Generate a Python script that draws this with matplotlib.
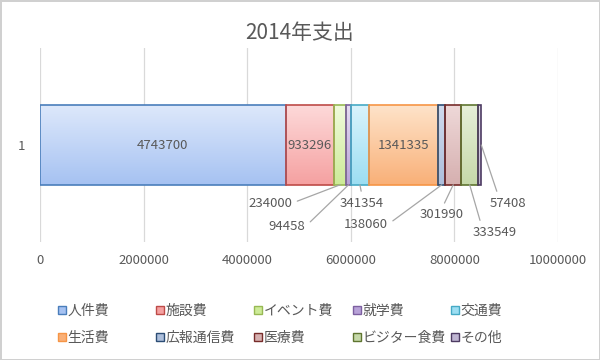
import numpy as np
import matplotlib.pyplot as plt
from matplotlib.colors import LinearSegmentedColormap
from matplotlib.patches import Rectangle

plt.rcParams['font.family'] = ['Noto Sans CJK JP', 'DejaVu Sans']

# data
categories = ['人件費', '施設費', 'イベント費', '就学費', '交通費',
              '生活費', '広報通信費', '医療費', 'ビジター食費', 'その他']
values = [4743700, 933296, 234000, 94458, 341354,
          1341335, 138060, 301990, 333549, 57408]
row_labels = ['1']
xticks = [0, 2000000, 4000000, 6000000, 8000000, 10000000]

# styles
edge_colors = ['#4a7ebb', '#be4b48', '#98b954', '#7d60a0', '#46aac5',
               '#f69546', '#2c4d75', '#772c2a', '#5f7530', '#4d3b62']
top_colors = ['#dde8fb', '#fdd9d9', '#f0fbdc', '#e6dcf2', '#d9f3fc',
              '#fee3c9', '#cfdaee', '#eed8d8', '#e6efd8', '#e2dcec']
bottom_colors = ['#a6c2f2', '#f5a1a1', '#cdeb98', '#b8a2d8', '#9cdef2',
                 '#f9b078', '#adbfdc', '#d6b0b0', '#c6d9a9', '#bfb5d2']
text_col = '#595959'
line_col = '#a6a6a6'

inside = [0, 1, 5]
# outside label: text position (x, y in data units), attach point on text
outer = {
    2: (4.44e6, -0.30, (1.0, 0.5)),
    3: (4.77e6, -0.42, (1.0, 0.5)),
    4: (6.22e6, -0.30, (0.5, 1.0)),
    6: (6.29e6, -0.41, (1.0, 0.5)),
    7: (7.76e6, -0.36, (0.5, 1.0)),
    8: (8.78e6, -0.45, (0.2, 1.0)),
    9: (9.03e6, -0.30, (0.25, 1.0)),
}

fig = plt.figure(figsize=(6, 3.6), dpi=100)
fig.patch.set_edgecolor('#d0d0d0')
fig.patch.set_linewidth(2)
ax = fig.add_axes([40 / 600, 1 - 242 / 360, 518 / 600, 194 / 360])

bar_h = 0.41
lefts = np.concatenate([[0], np.cumsum(values)[:-1]])
for i, v in enumerate(values):
    bars = ax.barh(0, v, left=lefts[i], height=bar_h, facecolor='none',
                   edgecolor=edge_colors[i], linewidth=1.2, zorder=4)
    p = bars[0]
    cmap = LinearSegmentedColormap.from_list('g%d' % i, [top_colors[i], bottom_colors[i]])
    grad = np.linspace(0, 1, 64).reshape(-1, 1)
    im = ax.imshow(grad, cmap=cmap, aspect='auto', origin='upper',
                   extent=[p.get_x(), p.get_x() + p.get_width(),
                           p.get_y(), p.get_y() + p.get_height()],
                   zorder=3, interpolation='bilinear')
    im.set_clip_path(p)

    cx = lefts[i] + v / 2
    if i in inside:
        ax.text(cx, 0, str(v), ha='center', va='center', fontsize=9.5,
                color=text_col, zorder=5)
    else:
        tx, ty, rp = outer[i]
        if i == 9:
            xy = (lefts[i] + v, 0.0)
        else:
            xy = (cx, -bar_h / 2)
        ax.annotate(str(v), xy=xy, xytext=(tx, ty), ha='center', va='center',
                    fontsize=9.5, color=text_col, zorder=5,
                    arrowprops=dict(arrowstyle='-', color=line_col, lw=0.9,
                                    relpos=rp, shrinkA=2, shrinkB=0))

ax.set_xlim(0, 10000000)
ax.set_ylim(-0.5, 0.5)
ax.set_xticks(xticks)
ax.set_xticklabels([str(t) for t in xticks])
ax.set_yticks([0])
ax.set_yticklabels(row_labels)
ax.tick_params(length=0, labelsize=9.5, labelcolor=text_col)
ax.tick_params(axis='x', pad=9)
ax.tick_params(axis='y', pad=11)
ax.grid(axis='x', color='#d9d9d9', linewidth=0.9)
ax.set_axisbelow(True)
for s in ax.spines.values():
    s.set_visible(False)

fig.text(0.5, 1 - 33 / 360, '2014年支出', ha='center', va='center',
         fontsize=15, color=text_col)

# legend, fixed grid like the original
col_x = [62, 160, 258, 357, 455]
row_y = [311, 338]
for i, name in enumerate(categories):
    h = Rectangle((0, 0), 1, 1, facecolor=bottom_colors[i], edgecolor=edge_colors[i], lw=1)
    x = col_x[i % 5]
    y = row_y[i // 5]
    fig.legend(handles=[h], labels=[name], loc='center left',
               bbox_to_anchor=((x - 4) / 600, 1 - y / 360), frameon=False,
               fontsize=10, labelcolor=text_col, handlelength=0.55,
               handleheight=0.55, handletextpad=0.15, borderpad=0,
               borderaxespad=0)

fig.savefig('out.png', dpi=100)
